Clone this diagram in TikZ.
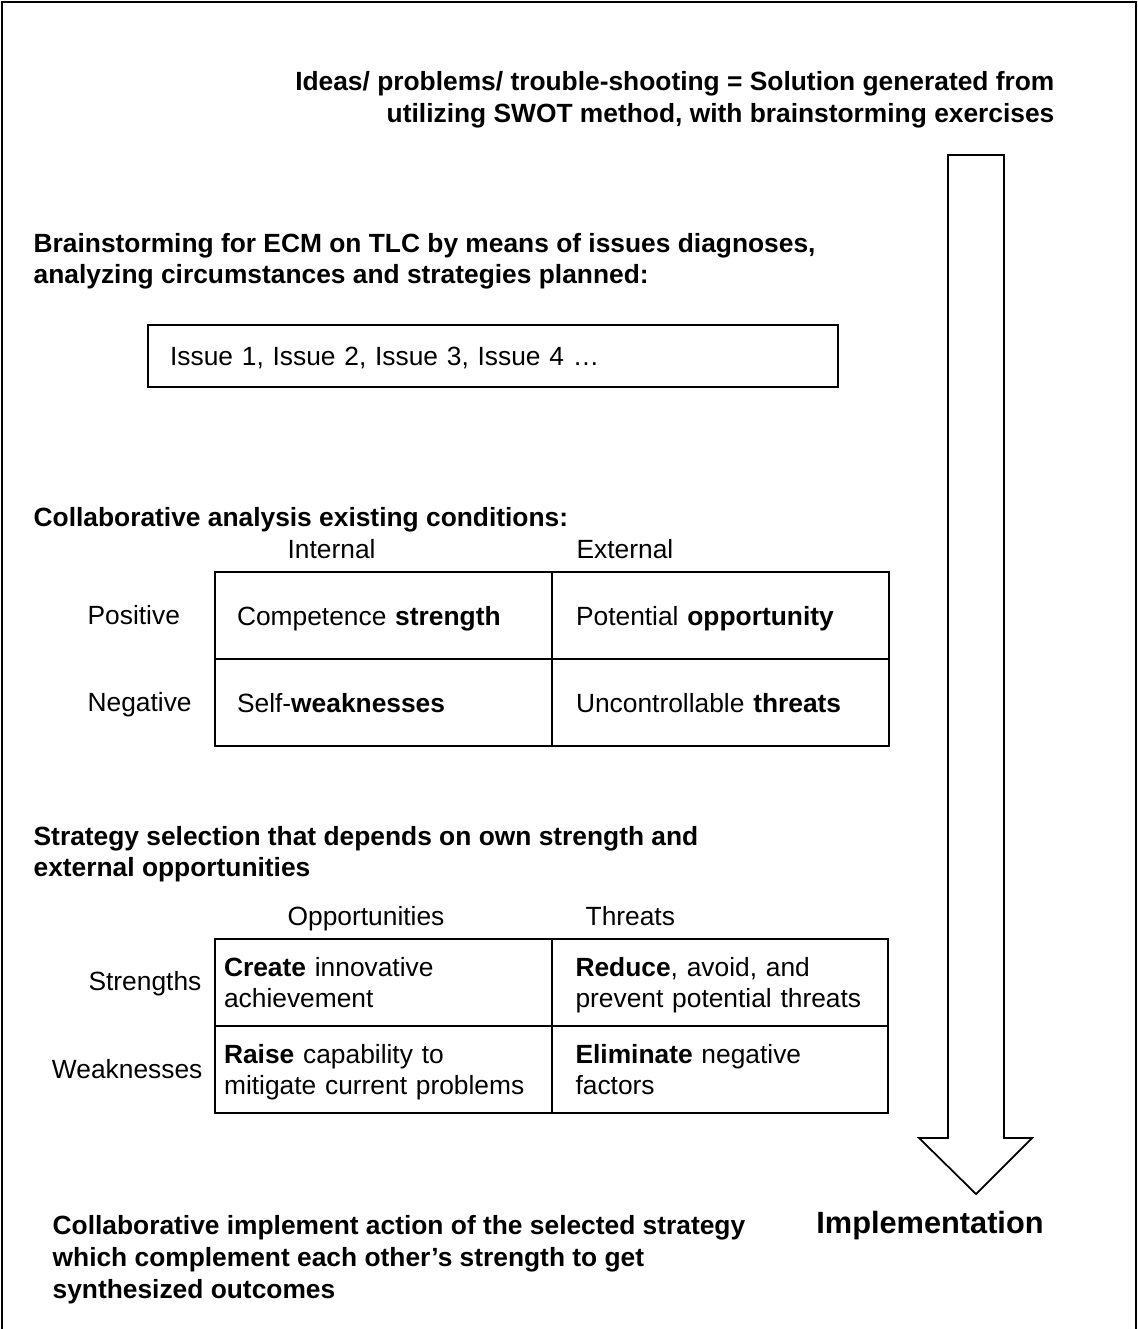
\documentclass[tikz,border=0pt]{standalone}
\usepackage{fontspec}
\setmainfont{Liberation Sans}
\usepackage{tikz}
\usetikzlibrary{positioning}
\tikzset{head/.style={font=\fontsize{12}{14.5}\selectfont\bfseries,align=left,inner sep=0pt,text depth=0pt}}
\tikzset{plain/.style={font=\fontsize{12}{14.5}\selectfont,inner sep=0pt,text depth=0pt}}
\tikzset{cell/.style={draw=black,line width=0.9pt,minimum width=5.392cm,minimum height=1.392cm,
    font=\fontsize{12}{14.2}\selectfont,align=left,inner ysep=0pt}}
\tikzset{onecell/.style={cell,text depth=0pt}}

\begin{document}
\begin{tikzpicture}[x=0.016cm, y=-0.016cm, semithick]
    \useasboundingbox (0,0) rectangle (1138,1329);
    \draw[line width=0.9pt] (2,1340) -- (2,2) -- (1136,2) -- (1136,1340);

    \node[head,anchor=east,align=right] (title) at (1055,97)
        {Ideas/ problems/ trouble-shooting = Solution generated from\\
         utilizing SWOT method, with brainstorming exercises};

    % down arrow
    \draw[line width=0.8pt] (948,155) -- (1004,155) -- (1004,1138) -- (1032,1138)
        -- (976,1194) -- (919,1138) -- (948,1138) -- cycle;
    \node[head,font=\fontsize{14}{16}\selectfont\bfseries] (impl) at (930,1222) {Implementation};

    \node[head,anchor=west] (brain) at (33,258.5)
        {Brainstorming for ECM on TLC by means of issues diagnoses,\\
         analyzing circumstances and strategies planned:};
    \node[draw=black,line width=0.7pt,minimum width=11.04cm,minimum height=0.992cm,
        text width=10.336cm,inner xsep=0.352cm,inner ysep=0pt,align=left,text depth=0pt,
        font=\fontsize{12}{14.5}\selectfont] (issues) at (493,356)
        {Issue 1, Issue 2, Issue 3, Issue 4 …};

    \node[head,anchor=west] (analysis) at (33,517) {Collaborative analysis existing conditions:};
    \node[plain,anchor=west] (internal) at (287,549) {Internal};
    \node[plain,anchor=west] (external) at (576,549) {External};
    \node[plain,anchor=west] (positive) at (87,615) {Positive};
    \node[plain,anchor=west] (negative) at (87,702) {Negative};
    \node[onecell,inner xsep=0.352cm,text width=4.688cm] (S) at (383.5,615.5) {Competence \textbf{strength}};
    \node[onecell,inner xsep=0.384cm,text width=4.624cm] (O) at (720.5,615.5) {Potential \textbf{opportunity}};
    \node[onecell,inner xsep=0.352cm,text width=4.688cm] (W) at (383.5,702.5) {Self-\textbf{weaknesses}};
    \node[onecell,inner xsep=0.384cm,text width=4.624cm] (T) at (720.5,702.5) {Uncontrollable \textbf{threats}};

    \node[head,anchor=west] (strategy) at (33,851.5)
        {Strategy selection that depends on own strength and\\
         external opportunities};
    \node[plain,anchor=west] (opp) at (287,916) {Opportunities};
    \node[plain,anchor=west] (thr) at (585,916) {Threats};
    \node[plain,anchor=east] (strengths) at (202,981) {Strengths};
    \node[plain,anchor=east] (weaknesses) at (203,1069) {Weaknesses};
    \node[cell,inner xsep=0.144cm,text width=5.104cm] (SO) at (383.5,982.5)
        {\textbf{Create} innovative\\ achievement};
    \node[cell,inner xsep=0.384cm,text width=4.624cm] (ST) at (720,982.5)
        {\textbf{Reduce}, avoid, and\\ \smash{prevent potential threats}};
    \node[cell,inner xsep=0.144cm,text width=5.104cm] (WO) at (383.5,1069.5)
        {\textbf{Raise} capability to\\ \smash{mitigate current problems}};
    \node[cell,inner xsep=0.384cm,text width=4.624cm] (WT) at (720,1069.5)
        {\textbf{Eliminate} negative\\ factors};

    \node[head,anchor=west] (action) at (52,1257)
        {Collaborative implement action of the selected strategy\\
         which complement each other’s strength to get\\
         synthesized outcomes};
\end{tikzpicture}
\end{document}
